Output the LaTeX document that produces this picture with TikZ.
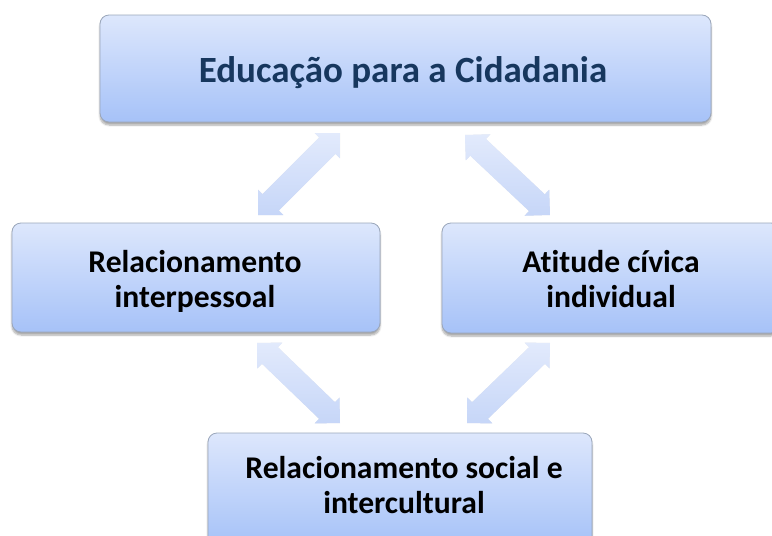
\documentclass[tikz,border=0pt]{standalone}
\usepackage{fontspec}
\setmainfont{Carlito}[Ligatures=NoCommon]
\usetikzlibrary{calc,shadows.blur}
\definecolor{boxtop}{HTML}{DDE7FC}
\definecolor{boxbot}{HTML}{A6C2F8}
\definecolor{boxline}{HTML}{9AA6BA}
\definecolor{arrtop}{HTML}{E2EAFC}
\definecolor{arrbot}{HTML}{C6D6F8}
\definecolor{arrshadow}{HTML}{B8BCC4}
\definecolor{titleblue}{HTML}{17375E}
\newcommand\ah{18pt}
\newcommand\aw{18pt}
\newcommand\as{11.5pt}
\newcommand\blockarrowpath[2]{%
 (#1)
 -- ($ ($(#1)!\ah!(#2)$)!\aw!90:(#2) $)
 -- ($ ($(#1)!\ah!(#2)$)!\as!90:(#2) $)
 -- ($ ($(#2)!\ah!(#1)$)!\as!-90:(#1) $)
 -- ($ ($(#2)!\ah!(#1)$)!\aw!-90:(#1) $)
 -- (#2)
 -- ($ ($(#2)!\ah!(#1)$)!\aw!90:(#1) $)
 -- ($ ($(#2)!\ah!(#1)$)!\as!90:(#1) $)
 -- ($ ($(#1)!\ah!(#2)$)!\as!-90:(#2) $)
 -- ($ ($(#1)!\ah!(#2)$)!\aw!-90:(#2) $)
 -- cycle}
\newcommand\blockarrow[2]{%
 \fill[arrowshadowstyle] \blockarrowpath{#1}{#2};
 \path[arrowstyle] \blockarrowpath{#1}{#2};}
\tikzset{
  box/.style={rectangle, rounded corners=9pt, draw=boxline, line width=0.8pt,
    top color=boxtop, bottom color=boxbot, inner sep=0pt,
    blur shadow={shadow xshift=0pt, shadow yshift=-3pt, shadow blur steps=6, shadow opacity=35}},
  arrowstyle/.style={top color=arrtop, bottom color=arrbot},
  arrowshadowstyle/.style={arrshadow, opacity=0.35, shift={(1.5,1.5)}},
  lbl/.style={inner sep=0pt, align=center, font=\bfseries\fontsize{31.6}{35}\selectfont},
}
\begin{document}
\begin{tikzpicture}[x=1pt,y=-1pt]
\useasboundingbox (0,0) rectangle (772,536);
\clip (0,0) rectangle (772,536);
% boxes
\node[box, minimum width=611pt, minimum height=107pt] (top) at (405.5,68.5) {};
\node[box, minimum width=368pt, minimum height=109pt] (left) at (196,277.5) {};
\node[box, minimum width=338pt, minimum height=110pt] (right) at (611,278) {};
\node[box, minimum width=384pt, minimum height=112pt] (bottom) at (400,489) {};
% texts
\node[inner sep=0pt, text=titleblue, font=\bfseries\fontsize{37}{44}\selectfont] (ttop) at (403,73.2) {\strut Educação para a Cidadania};
\node[lbl] (tleft) at (195,282.5) {\strut Relacionamento\\\strut interpessoal};
\node[lbl] (tright) at (611,282.5) {\strut Atitude cívica\\\strut individual};
\node[lbl] (tbottom) at (404,488.5) {\strut Relacionamento social e\\\strut intercultural};
% arrow end points
\coordinate (a1s) at (258,215); \coordinate (a1e) at (340,133);
\coordinate (a2s) at (465,135); \coordinate (a2e) at (550,215);
\coordinate (a3s) at (257,343); \coordinate (a3e) at (340,423);
\coordinate (a4s) at (550,343); \coordinate (a4e) at (467,423);
\blockarrow{a1s}{a1e}
\blockarrow{a2s}{a2e}
\blockarrow{a3s}{a3e}
\blockarrow{a4s}{a4e}
\end{tikzpicture}
\end{document}
